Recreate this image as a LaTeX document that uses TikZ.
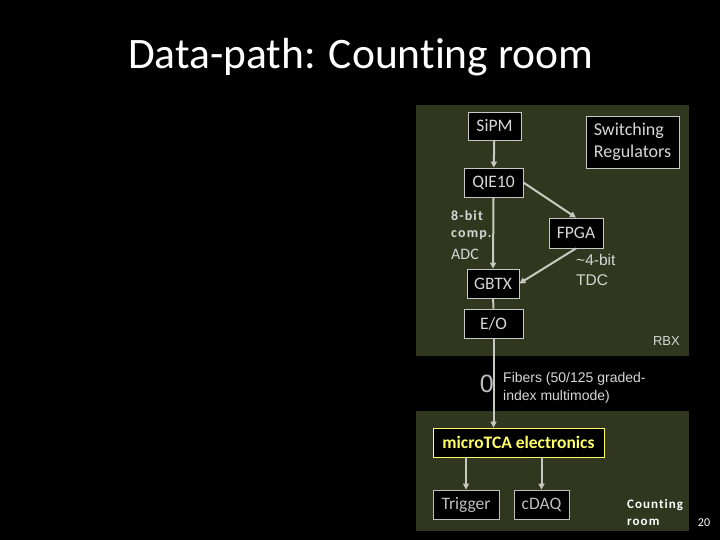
\documentclass[tikz,border=0pt]{standalone}
\usepackage{fontspec}
\setmainfont{Carlito}[RawFeature=-liga]
\newfontfamily\arialf{Liberation Sans}
\newfontfamily\spaced[LetterSpace=8,RawFeature=-liga]{Carlito}
\usetikzlibrary{arrows.meta}
\definecolor{panel}{RGB}{49,55,31}
\definecolor{txt}{RGB}{215,215,215}
\definecolor{bord}{RGB}{200,200,200}
\definecolor{arr}{RGB}{200,200,192}
\definecolor{ylw}{RGB}{255,255,102}
\definecolor{dimtxt}{RGB}{190,190,190}
\tikzset{
  box/.style={draw=bord, line width=0.8pt, fill=black, text=txt, inner sep=0pt, font=\fontsize{17.5}{20}\selectfont},
  conn/.style={draw=arr, line width=2pt, -{Triangle[width=6pt,length=6pt]}},
  plain/.style={draw=arr, line width=2pt},
  lbl/.style={text=txt, inner sep=0pt},
}
\begin{document}
\begin{tikzpicture}[x=1pt,y=-1pt]
\fill[black] (0,0) rectangle (720,540);
\useasboundingbox (0,0) rectangle (720,540);
% title
\node[text=white, font=\fontsize{43.5}{48}\selectfont, anchor=base west, inner sep=0pt] (title) at (128,69) {Data-path: Counting room};
% panels
\fill[panel] (416,105) rectangle (689,356);
\fill[panel] (416,411) rectangle (689,531);
% upper nodes
\node[box, minimum width=53pt, minimum height=28pt] (sipm) at (494.5,126) {SiPM};
\node[box, minimum width=93pt, minimum height=52pt, align=left, font=\fontsize{18}{22}\selectfont] (sw) at (632.5,142) {Switching\\Regulators};
\node[box, minimum width=59pt, minimum height=29pt] (qie) at (493.5,182.5) {QIE10};
\node[box, minimum width=54pt, minimum height=30pt] (fpga) at (576,233) {FPGA};
\node[box, minimum width=52pt, minimum height=29pt] (gbtx) at (493,283.5) {GBTX};
\node[box, minimum width=59pt, minimum height=29pt] (eo) at (493.5,323.5) {E/O};
% labels
\node[lbl, anchor=west, font=\spaced\bfseries\fontsize{14}{16}\selectfont] (l8) at (451,216) {8-bit};
\node[lbl, anchor=west, font=\spaced\bfseries\fontsize{14}{16}\selectfont] (lc) at (451,235) {comp.};
\node[lbl, anchor=west, font=\fontsize{16}{18}\selectfont] (la) at (451,254) {ADC};
\node[lbl, anchor=west, font=\arialf\fontsize{15.5}{19.5}\selectfont, align=left] (tdc) at (576,270) {\textasciitilde4-bit\\TDC};
\node[lbl, anchor=east, font=\arialf\fontsize{13}{15}\selectfont] (rbx) at (680,341) {RBX};
% connectors upper
\draw[conn] (sipm) -- (qie);
\draw[conn] (qie.south) -- (gbtx.north);
\draw[conn] (qie.east) -- (fpga.north);
\draw[conn] (fpga.south) -- (gbtx.east);
\draw[plain] (gbtx) -- (eo);
% fibers
\node[lbl, text=dimtxt, font=\arialf\fontsize{25}{27}\selectfont, anchor=east] (zero) at (494,384) {0};
\node[lbl, anchor=west, font=\arialf\fontsize{14}{18}\selectfont, align=left] (fib) at (503,388) {Fibers (50/125 graded-\\index multimode)};
% lower nodes
\node[box, draw=ylw, text=ylw, font=\bfseries\fontsize{17.5}{20}\selectfont, minimum width=171pt, minimum height=29pt] (mtca) at (518.5,442.5) {microTCA electronics};
\node[box, draw=dimtxt, text=dimtxt, minimum width=66pt, minimum height=29pt] (trig) at (466,504.5) {Trigger};
\node[box, draw=dimtxt, text=dimtxt, minimum width=55pt, minimum height=29pt] (cdaq) at (541.5,504.5) {cDAQ};
\draw[conn] (eo.south) -- (eo.south |- mtca.north);
\draw[conn] (mtca.south -| trig.north) -- (trig.north);
\draw[conn] (mtca.south -| cdaq.north) -- (cdaq.north);
\node[lbl, text=white, anchor=west, align=left, font=\spaced\bfseries\fontsize{13}{17}\selectfont] (cr) at (627,512) {Counting\\room};
\node[lbl, text=white, font=\fontsize{12}{14}\selectfont] (pg) at (704,523) {20};
\end{tikzpicture}
\end{document}
